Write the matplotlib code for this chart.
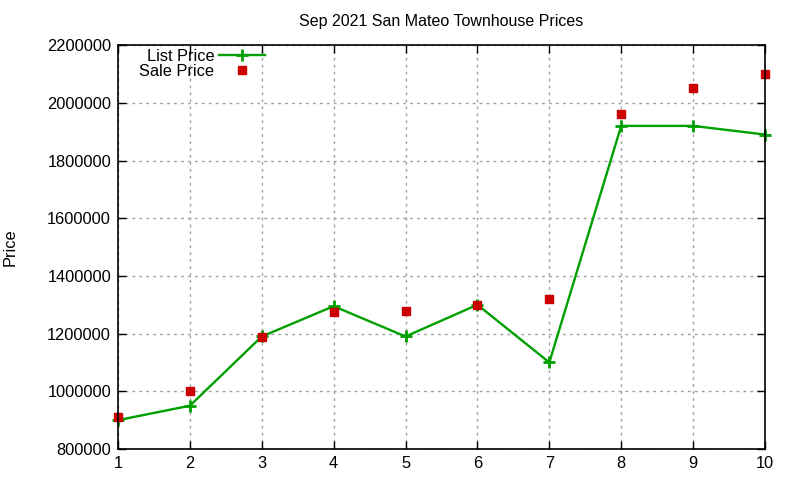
import matplotlib
matplotlib.use("Agg")
import matplotlib.pyplot as plt

# San Mateo townhouse sales, Sep 2021
sale_index = [1, 2, 3, 4, 5, 6, 7, 8, 9, 10]
list_price = [900000, 950000, 1190000, 1295000, 1190000, 1300000, 1100000,
              1920000, 1920000, 1890000]
sale_price = [910000, 1000000, 1188000, 1275000, 1280000, 1300000, 1320000,
              1960000, 2050000, 2100000]
y_ticks = [800000, 1000000, 1200000, 1400000, 1600000, 1800000, 2000000, 2200000]

plt.rcParams["font.family"] = ["Liberation Sans", "DejaVu Sans"]

fig = plt.figure(figsize=(8, 4.8), dpi=100)
ax = fig.add_axes([0.1475, 0.0646, 0.8087, 0.8414])

ax.plot(sale_index, list_price, color="#00a000", lw=1.7, marker="+",
        markersize=9, markeredgewidth=2, label="List Price", clip_on=False)
ax.plot(sale_index, sale_price, color="#cc0000", lw=0, marker="s",
        markersize=6, label="Sale Price", clip_on=False)

ax.set_xlim(1, 10)
ax.set_ylim(800000, 2200000)
ax.set_xticks(sale_index)
ax.set_yticks(y_ticks)
ax.set_yticklabels([str(v) for v in y_ticks])
ax.tick_params(direction="in", top=True, right=True, labelsize=11.8,
               length=6, width=1, pad=5)
ax.grid(True, color="#a0a0a0", linestyle=(0, (2, 3)), lw=1)
for s in ax.spines.values():
    s.set_linewidth(1.2)

ax.set_title("Sep 2021 San Mateo Townhouse Prices", fontsize=11.5, pad=14)
ax.set_ylabel("Price", fontsize=11.8, labelpad=21)

ax.legend(loc="upper left", bbox_to_anchor=(0.018, 1.015), frameon=False,
          markerfirst=False, fontsize=11.8, handlelength=2.8,
          labelspacing=0.0, borderaxespad=0.2, handletextpad=0.3)

fig.savefig("out.png", dpi=100)
